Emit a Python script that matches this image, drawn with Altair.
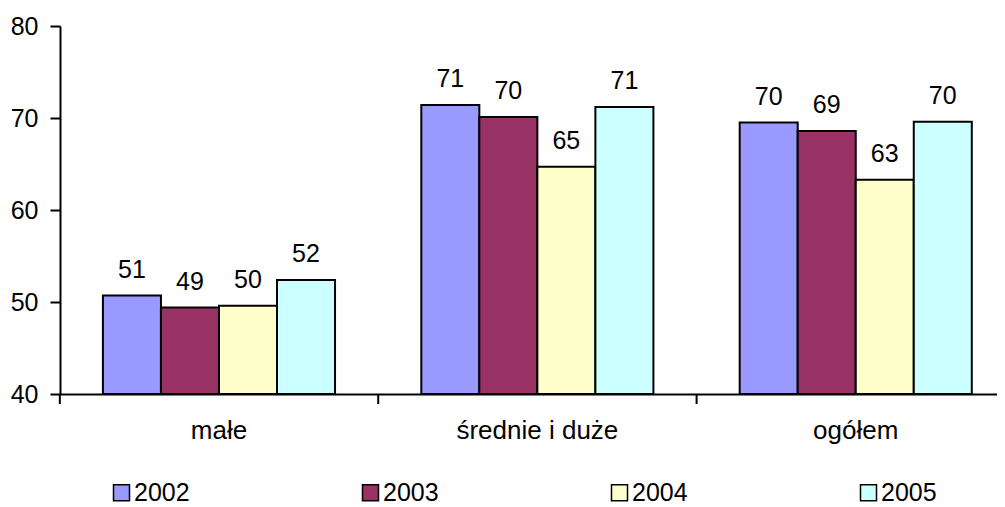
import altair as alt
import pandas as pd

categories = ["małe", "średnie i duże", "ogółem"]
years = ["2002", "2003", "2004", "2005"]
v2002 = [50.7, 71.4, 69.5]
v2003 = [49.4, 70.1, 68.6]
v2004 = [49.6, 64.7, 63.3]
v2005 = [52.4, 71.2, 69.6]
colors = ["#9999FF", "#993366", "#FFFFCC", "#CCFFFF"]

rows = []
for yr, vals in zip(years, [v2002, v2003, v2004, v2005]):
    for c, v in zip(categories, vals):
        rows.append({"kategoria": c, "rok": yr, "wartosc": v, "etykieta": str(int(round(v)))})
df = pd.DataFrame(rows)
cat_df = pd.DataFrame({"kategoria": categories})

FONT = "Liberation Sans"
xscale = alt.Scale(paddingInner=0.271, paddingOuter=0.107, align=0.63)

x = alt.X("kategoria:N", sort=categories, title=None, scale=xscale,
          axis=alt.Axis(labelAngle=0, labelFontSize=26, labelFont=FONT, labelColor="black",
                        labelPadding=23, ticks=False,
                        domainColor="black", domainWidth=2))
xo = alt.XOffset("rok:N", sort=years, scale=alt.Scale(paddingInner=0, paddingOuter=0))
y = alt.Y("wartosc:Q", title=None,
          scale=alt.Scale(domain=[40, 80], zero=False, nice=False),
          axis=alt.Axis(values=[40, 50, 60, 70, 80], grid=False, labelFontSize=25, labelFont=FONT,
                        labelColor="black", labelPadding=12, tickSize=10, tickWidth=2,
                        tickColor="black", domainColor="black", domainWidth=2))

bars = alt.Chart(df).mark_bar(stroke="black", strokeWidth=2).encode(
    x=x, xOffset=xo, y=y, y2=alt.datum(40),
    color=alt.Color("rok:N", sort=years, scale=alt.Scale(domain=years, range=colors),
                    legend=alt.Legend(title=None, orient="none", direction="horizontal", columns=4,
                                      legendX=49, legendY=454, padding=0,
                                      symbolType="square", symbolSize=256,
                                      symbolStrokeColor="black", symbolStrokeWidth=1.5,
                                      symbolOpacity=1,
                                      labelFontSize=25, labelFont=FONT, labelColor="black",
                                      labelOffset=0, columnPadding=168)),
)

labels = alt.Chart(df).mark_text(fontSize=25, font=FONT, color="black", baseline="alphabetic", dy=-18).encode(
    x=alt.X("kategoria:N", sort=categories), xOffset=alt.XOffset("rok:N", sort=years), y="wartosc:Q",
    text="etykieta:N",
)

xticks = alt.Chart(cat_df).mark_rule(color="black", strokeWidth=2, xOffset=-43.1).encode(
    x=alt.X("kategoria:N", sort=categories, bandPosition=0),
    y=alt.value(368), y2=alt.value(378),
)

chart = alt.layer(bars, labels, xticks).properties(
    width=937, height=368,
    autosize=alt.AutoSizeParams(type="none"),
    padding={"left": 52, "top": 18, "right": 0, "bottom": 113},
).configure_view(stroke=None)

chart.save("out.html", embed_options={"renderer": "svg", "actions": False})
